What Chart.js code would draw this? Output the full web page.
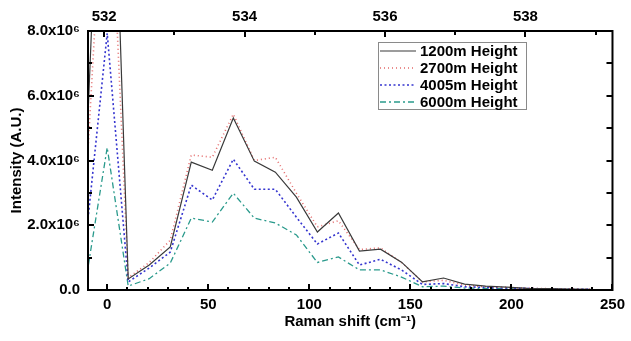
<!DOCTYPE html>
<html>
<head>
<meta charset="utf-8">
<script src="https://cdn.jsdelivr.net/npm/chart.js@4"></script>
<style>
  body { margin: 0; background: #fff; }
  canvas { display: block; }
</style>
</head>
<body>
<canvas id="chartBox" width="631" height="341"></canvas>
<script>
// Raman shift (cm-1) of each sample point
const shift = [-10.4, 0, 10.4, 20.8, 31.2, 41.6, 52, 62.4, 72.8, 83.2, 93.6, 104, 114.4, 124.8, 135.2, 145.6, 156, 166.4, 176.8, 187.2, 197.6, 208, 218.4, 228.8, 239.2]

// intensities in units of 10^6 A.U.
const h1200 = [4.0, 20.0, 0.34, 0.77, 1.33, 3.95, 3.70, 5.31, 3.98, 3.64, 2.87, 1.79, 2.38, 1.20, 1.26, 0.86, 0.25, 0.37, 0.18, 0.12, 0.09, 0.05, 0.04, 0.03, 0.02]
const h2700 = [3.3, 15.0, 0.38, 0.85, 1.54, 4.17, 4.10, 5.43, 4.00, 4.10, 2.99, 1.95, 2.14, 1.25, 1.30, 0.85, 0.25, 0.30, 0.15, 0.10, 0.08, 0.05, 0.04, 0.03, 0.02]
const h4005 = [1.65, 7.93, 0.25, 0.68, 1.17, 3.24, 2.78, 4.04, 3.11, 3.11, 2.25, 1.42, 1.76, 0.77, 0.95, 0.62, 0.17, 0.20, 0.10, 0.08, 0.06, 0.05, 0.03, 0.02, 0.02]
const h6000 = [0.35, 4.40, 0.12, 0.35, 0.83, 2.22, 2.10, 2.99, 2.22, 2.07, 1.70, 0.85, 1.02, 0.62, 0.62, 0.40, 0.10, 0.12, 0.06, 0.05, 0.04, 0.03, 0.02, 0.02, 0.01]

const seriesNames = ['1200m Height', '2700m Height', '4005m Height', '6000m Height']

// tick labels
const xTicks = [0, 50, 100, 150, 200, 250]
const yTicks = [0, 2, 4, 6, 8]
const yTickLabels = ['0.0', '2.0x10\u2076', '4.0x10\u2076', '6.0x10\u2076', '8.0x10\u2076']
const topTicks = [532, 534, 536, 538]

const font = { family: 'Arial, "Liberation Sans", sans-serif', size: 15, weight: 'bold' }

const toPoints = (ys) => shift.map((x, i) => ({ x, y: ys[i] }))

const styles = [
    { color: '#3a3a3a', dash: [], width: 1.2 },
    { color: '#e46a6a', dash: [1, 3], width: 1.6 },
    { color: '#3535cf', dash: [2, 2.5], width: 1.6 },
    { color: '#2a9a8c', dash: [6, 3, 2, 3], width: 1.3 }
]

const datasets = [h1200, h2700, h4005, h6000].map((ys, i) => ({
    label: seriesNames[i],
    data: toPoints(ys),
    borderColor: styles[i].color,
    borderDash: styles[i].dash,
    borderWidth: styles[i].width,
    pointRadius: 0,
    fill: false,
    tension: 0,
    xAxisID: 'x',
    yAxisID: 'y'
}))

// inward ticks + closing frame
const frame = {
    id: 'frame',
    afterDraw(chart) {
        const ctx = chart.ctx
        const a = chart.chartArea
        const sx = chart.scales.x, sy = chart.scales.y, st = chart.scales.x2
        ctx.save()
        ctx.strokeStyle = '#000'
        ctx.lineWidth = 2
        ctx.strokeRect(a.left, a.top, a.right - a.left, a.bottom - a.top)
        ctx.beginPath()
        for (let v = 0; v <= 250; v += 10) {
            const px = Math.round(sx.getPixelForValue(v))
            const len = v % 50 === 0 ? 6 : 3
            ctx.moveTo(px, a.bottom); ctx.lineTo(px, a.bottom - len)
        }
        for (let v = 532; v <= 539; v += 1) {
            const px = Math.round(st.getPixelForValue(v))
            const len = v % 2 === 0 ? 6 : 4
            ctx.moveTo(px, a.top); ctx.lineTo(px, a.top + len)
        }
        for (let v = 0; v <= 8; v += 1) {
            const py = Math.round(sy.getPixelForValue(v))
            const len = v % 2 === 0 ? 6 : 4
            ctx.moveTo(a.left, py); ctx.lineTo(a.left + len, py)
            ctx.moveTo(a.right, py); ctx.lineTo(a.right - 6, py)
        }
        ctx.stroke()
        ctx.restore()
    }
}

const legendBox = {
    id: 'legendBox',
    afterDraw(chart) {
        const ctx = chart.ctx
        ctx.save()
        ctx.strokeStyle = '#8a8a8a'
        ctx.lineWidth = 1
        ctx.strokeRect(378.5, 42.5, 148, 67)
        ctx.font = 'bold 15px Arial, "Liberation Sans", sans-serif'
        ctx.textBaseline = 'middle'
        chart.data.datasets.forEach((ds, i) => {
            const y = 51 + i * 17
            ctx.strokeStyle = ds.borderColor
            ctx.lineWidth = ds.borderWidth
            ctx.setLineDash(ds.borderDash)
            ctx.beginPath()
            ctx.moveTo(380, y); ctx.lineTo(416, y)
            ctx.stroke()
            ctx.setLineDash([])
            ctx.fillStyle = '#000'
            ctx.fillText(ds.label, 420, y + 1)
        })
        ctx.restore()
    }
}

const noGrid = { display: false, drawTicks: false, tickLength: 0 }

const context = document.querySelector('#chartBox').getContext('2d')
const chart = new Chart(context, {
    type: 'line',
    data: { datasets },
    options: {
        responsive: false,
        animation: false,
        devicePixelRatio: 1,
        layout: { padding: { left: 0, right: 11, top: 0, bottom: 0 } },
        plugins: { legend: { display: false }, tooltip: { enabled: false } },
        scales: {
            x: {
                type: 'linear',
                position: 'bottom',
                min: -9.5,
                max: 250,
                afterBuildTicks: (s) => { s.ticks = xTicks.map(v => ({ value: v })) },
                afterFit: (s) => { s.height = 51 },
                grid: noGrid,
                border: { display: true, color: '#000', width: 2 },
                ticks: { color: '#000', font, padding: 6, maxRotation: 0 },
                title: { display: true, text: 'Raman shift (cm\u207B\u00B9)', color: '#000', font, padding: { top: 4, bottom: 10 } }
            },
            x2: {
                type: 'linear',
                position: 'top',
                min: 531.77,
                max: 539.24,
                afterBuildTicks: (s) => { s.ticks = topTicks.map(v => ({ value: v })) },
                afterFit: (s) => { s.height = 31 },
                grid: noGrid,
                border: { display: true, color: '#000', width: 2 },
                ticks: { color: '#000', font, padding: 5, maxRotation: 0 }
            },
            y: {
                type: 'linear',
                min: 0,
                max: 8,
                afterBuildTicks: (s) => { s.ticks = yTicks.map(v => ({ value: v })) },
                afterFit: (s) => { s.width = 88 },
                grid: noGrid,
                border: { display: true, color: '#000', width: 2 },
                ticks: {
                    color: '#000', font, padding: 8,
                    callback: (v) => yTickLabels[yTicks.indexOf(v)]
                },
                title: { display: true, text: 'Intensity (A.U.)', color: '#000', font, padding: { top: 8, bottom: 0 } }
            }
        }
    },
    plugins: [frame, legendBox]
})
</script>
</body>
</html>
